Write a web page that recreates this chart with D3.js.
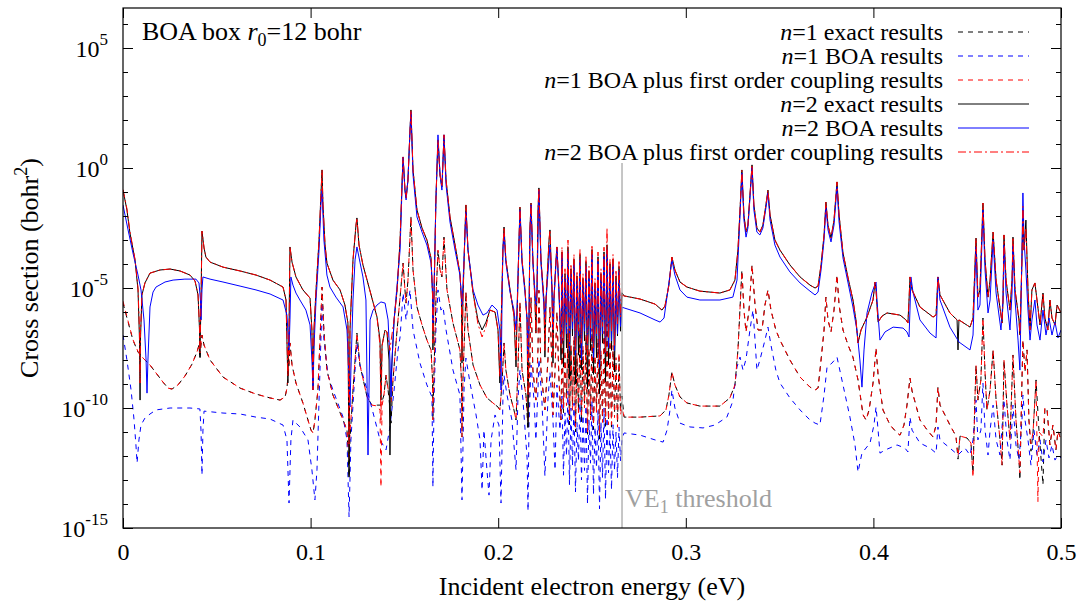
<!DOCTYPE html>
<html>
<head>
<meta charset="utf-8">
<script src="https://cdn.jsdelivr.net/npm/d3@7"></script>
<style>
  body { margin: 0; background: #fff; }
  svg { display: block; }
  text { font-family: "Liberation Serif", "Times New Roman", serif; fill: #000; }
</style>
</head>
<body>
<svg id="chart" width="1086" height="604"></svg>
<script>
// ---- axis settings ----
const energyDomain = [0, 0.5];
const logDomain = [-15, 6.667];          // log10 of cross section range
const xTicks = [0, 0.1, 0.2, 0.3, 0.4, 0.5];
const xTickLabels = ["0", "0.1", "0.2", "0.3", "0.4", "0.5"];
const yTickExps = [-15, -10, -5, 0, 5];
const yMinorExps = d3.range(-15, 7);
const thresholdEnergy = 0.266;

// ---- series: [energy (eV), log10 cross section (bohr^2)] ----
const n1Exact = [
[0,-5.63],[.0027,-6.42],[.0053,-7.17],[.0080,-7.67],[.0107,-7.92],[.0144,-8.21],[.0176,-8.54],[.0213,-8.92],[.0240,-9.17],[.0261,-9.21],[.0293,-9.04],[.0330,-8.67],[.0368,-8.17],[.0394,-7.67],[.0405,-7.38],[.0410,-7.96],[.0416,-7.38],[.0421,-6.96],[.0432,-7.38],[.0464,-8.0],[.0533,-8.71],[.0624,-9.17],[.0709,-9.42],[.0784,-9.58],[.0837,-9.67],[.0864,-9.54],[.0874,-9.17],[.0885,-8.21],[.0890,-7.29],[.0901,-8.21],[.0922,-8.96],[.0959,-9.79],[.0986,-10.5],[.1002,-10.92],[.1013,-11.04],[.1023,-10.5],[.1039,-9.25],[.1050,-7.17],[.1061,-4.96],[.1071,-6.79],[.1087,-8.42],[.1119,-9.46],[.1173,-10.5],[.1194,-10.92],[.1205,-12.88],[.1210,-11.33],[.1226,-9.25],[.1247,-6.88],[.1263,-8.21],[.1301,-9.54],[.1327,-9.88],[.1359,-9.88],[.1375,-9.88],[.1391,-9.46],[.1402,-8.63],[.1413,-9.25],[.1423,-10.0],[.1429,-10.63],[.1439,-8.83],[.1461,-6.75],[.1477,-5.38],[.1493,-3.96],[.1503,-5.08],[.1509,-5.63],[.1519,-4.67],[.1535,-2.04],[.1546,-4.25],[.1567,-5.79],[.1594,-6.54],[.1620,-7.17],[.1642,-7.58],[.1650,-8.83],[.1652,-10.5],[.1658,-8.42],[.1668,-5.5],[.1679,-3.42],[.1690,-4.25],[.1700,-4.54],[.1711,-2.88],[.1727,-5.08],[.1759,-6.46],[.1796,-7.58],[.1804,-8.83],[.1807,-11.21],[.1812,-8.83],[.1823,-6.33],[.1828,-5.17],[.1839,-6.75],[.1866,-8.21],[.1903,-9.04],[.1940,-9.58],[.1972,-9.79],[.1999,-9.96],[.2009,-10.08],[.2020,-9.0],[.2031,-7.29],[.2041,-8.42],[.2063,-9.46],[.2084,-10.08],[.2095,-10.5],[.2105,-8.42],[.2116,-5.6],[.2127,-8.42],[.2148,-9.46],[.2159,-10.92],[.2169,-8.0],[.2175,-5.4],[.2185,-8.42],[.2201,-9.67],[.2212,-7.58],[.2217,-5.1],[.2228,-8.42],[.2249,-10.08],[.2265,-8.0],[.2276,-5.8],[.2287,-8.42],[.2292,-10.29],[.2303,-8.42],[.2313,-6.0],[.2324,-8.83],[.2335,-10.5],
[.2340,-7.0],[.2348,-10.2],[.2356,-7.8],[.2364,-9.6],[.2372,-6.9],[.2380,-10.7],[.2388,-7.5],[.2396,-9.9],[.2404,-7.2],[.2412,-11.0],[.2420,-7.9],[.2428,-10.1],[.2436,-6.8],[.2444,-10.6],[.2452,-7.6],[.2460,-9.8],[.2468,-7.1],[.2476,-11.2],[.2484,-7.7],[.2492,-10.3],[.2500,-6.9],[.2508,-10.9],[.2516,-8.0],[.2524,-10.0],[.2532,-7.3],[.2540,-11.3],[.2548,-7.8],[.2556,-10.4],[.2564,-7.0],[.2572,-10.8],[.2580,-6.7],[.2588,-10.5],[.2596,-7.4],[.2604,-10.9],[.2612,-7.6],[.2620,-10.2],[.2628,-8.1],[.2636,-10.6],[.2644,-7.9],[.2652,-10.1],[.2660,-9.5],
[.2671,-10.38],[.2756,-10.38],[.2863,-10.33],[.2894,-10.08],[.2910,-9.46],[.2926,-8.5],[.2942,-9.04],[.2969,-9.54],[.3006,-9.79],[.3075,-9.92],[.3182,-9.92],[.3235,-9.58],[.3262,-9.04],[.3278,-7.58],[.3299,-4.25],[.3310,-5.92],[.3321,-6.83],[.3337,-5.92],[.3353,-4.04],[.3369,-5.71],[.3385,-6.75],[.3406,-6.75],[.3422,-5.71],[.3438,-5.08],[.3454,-5.92],[.3480,-6.75],[.3502,-7.17],[.3555,-8.0],[.3609,-8.71],[.3662,-9.13],[.3689,-9.25],[.3705,-9.17],[.3721,-8.0],[.3737,-6.75],[.3747,-5.38],[.3758,-6.33],[.3774,-6.83],[.3790,-5.92],[.3806,-4.46],[.3817,-5.71],[.3838,-6.75],[.3865,-7.38],[.3891,-7.88],[.3918,-8.83],[.3945,-10.29],[.3961,-10.5],[.3977,-10.08],[.3998,-8.96],[.4014,-7.5],[.4025,-8.63],[.4051,-10.08],[.4089,-10.71],[.4126,-11.04],[.4142,-11.13],[.4163,-10.71],[.4179,-9.88],[.4195,-8.75],[.4206,-9.29],[.4248,-10.5],[.4291,-10.96],[.4318,-11.21],[.4334,-10.71],[.4344,-9.13],[.4355,-9.88],[.4408,-10.71],[.4440,-11.17],[.4451,-12.13],[.4462,-11.17],[.4499,-11.25],[.4520,-11.46],[.4531,-12.71],[.4541,-9.67],[.4547,-8.21],[.4557,-9.67],[.4573,-8.83],[.4584,-6.25],[.4595,-8.5],[.4605,-10.08],[.4622,-9.25],[.4638,-7.58],[.4654,-9.67],[.4675,-11.33],[.4686,-12.38],[.4696,-8.0],[.4712,-9.88],[.4728,-11.33],[.4744,-7.79],[.4760,-10.5],[.4776,-12.17],[.4781,-13.0],[.4792,-8.83],[.4797,-7.17],[.4808,-8.5],[.4819,-7.58],[.4829,-10.5],[.4840,-11.8],[.4851,-11.0],[.4867,-8.83],[.4883,-11.0],[.4904,-13.2],[.4914,-10.0],[.4925,-10.0],[.4941,-11.54],[.4957,-10.71],[.4973,-11.75],[.4984,-10.96],[.5,-11.33]
];

const n1Boa = [
[0,-6.96],[.0021,-8.0],[.0043,-9.25],[.0059,-10.5],[.0069,-11.54],[.0075,-12.29],[.0085,-11.33],[.0096,-10.71],[.0117,-10.42],[.0144,-10.25],[.0176,-10.08],[.0251,-10.0],[.0357,-10.0],[.0410,-10.04],[.0416,-10.96],[.0421,-12.79],[.0426,-10.96],[.0432,-10.13],[.0533,-10.21],[.0624,-10.25],[.0709,-10.38],[.0784,-10.46],[.0853,-10.71],[.0874,-11.33],[.0885,-13.96],[.0895,-11.33],[.0906,-10.5],[.0943,-10.79],[.0986,-11.33],[.1007,-12.58],[.1023,-13.83],[.1034,-12.58],[.1045,-9.67],[.1061,-5.63],[.1071,-7.17],[.1093,-8.63],[.1119,-9.25],[.1173,-10.38],[.1194,-11.33],[.1205,-14.54],[.1215,-11.33],[.1237,-8.42],[.1247,-7.29],[.1263,-8.21],[.1301,-9.25],[.1343,-10.5],[.1370,-11.33],[.1402,-11.75],[.1423,-10.79],[.1445,-9.25],[.1466,-7.58],[.1477,-7.04],[.1493,-5.21],[.1509,-6.33],[.1530,-5.08],[.1546,-6.75],[.1583,-8.13],[.1620,-9.04],[.1647,-9.54],[.1652,-13.29],[.1658,-9.71],[.1668,-6.75],[.1679,-5.08],[.1695,-5.92],[.1706,-5.79],[.1722,-6.75],[.1759,-8.42],[.1796,-9.46],[.1807,-13.83],[.1818,-9.21],[.1828,-7.92],[.1850,-8.96],[.1882,-10.29],[.1903,-11.33],[.1914,-13.42],[.1924,-10.92],[.1940,-12.58],[.1951,-13.63],[.1962,-11.33],[.1983,-10.29],[.2004,-10.71],[.2015,-13.96],[.2025,-9.67],[.2031,-8.63],[.2047,-9.46],[.2073,-10.5],[.2095,-12.58],[.2105,-9.67],[.2116,-8.42],[.2132,-9.67],[.2154,-12.08],[.2159,-14.29],[.2164,-10.75],[.2175,-8.21],[.2191,-9.67],[.2201,-11.33],[.2212,-9.25],[.2217,-7.96],[.2233,-9.67],[.2249,-12.83],[.2265,-9.67],[.2276,-8.5],[.2292,-10.5],[.2303,-12.58],[.2313,-9.04],[.2329,-10.92],
[.2340,-9.5],[.2348,-12.8],[.2356,-10.2],[.2364,-12.0],[.2372,-9.3],[.2380,-13.2],[.2388,-10.0],[.2396,-12.4],[.2404,-9.8],[.2412,-13.5],[.2420,-10.6],[.2428,-12.2],[.2436,-9.6],[.2444,-13.0],[.2452,-10.3],[.2460,-12.6],[.2468,-9.9],[.2476,-14.0],[.2484,-10.5],[.2492,-12.3],[.2500,-9.7],[.2508,-13.6],[.2516,-10.8],[.2524,-12.5],[.2532,-10.1],[.2540,-14.2],[.2548,-10.6],[.2556,-12.9],[.2564,-10.0],[.2572,-13.8],[.2580,-10.4],[.2588,-12.7],[.2596,-10.9],[.2604,-13.4],[.2612,-10.7],[.2620,-12.6],[.2628,-11.0],[.2636,-12.9],[.2644,-10.8],[.2652,-12.2],[.2660,-11.3],
[.2671,-11.04],[.2756,-11.13],[.2836,-11.33],[.2879,-11.42],[.2900,-10.92],[.2916,-10.08],[.2926,-9.25],[.2942,-10.0],[.2969,-10.63],[.3022,-10.79],[.3092,-10.83],[.3155,-10.71],[.3219,-10.38],[.3251,-9.71],[.3273,-8.29],[.3289,-7.88],[.3305,-8.42],[.3321,-7.96],[.3342,-6.75],[.3358,-5.92],[.3369,-7.17],[.3379,-8.42],[.3395,-8.0],[.3422,-7.17],[.3438,-6.63],[.3454,-7.38],[.3480,-8.42],[.3502,-8.96],[.3555,-9.58],[.3609,-10.08],[.3662,-10.5],[.3689,-10.63],[.3715,-10.71],[.3737,-9.46],[.3753,-8.29],[.3779,-8.13],[.3806,-7.88],[.3838,-9.04],[.3875,-10.38],[.3902,-11.54],[.3918,-12.67],[.3939,-11.88],[.3982,-11.46],[.4003,-10.71],[.4014,-9.96],[.4025,-10.92],[.4035,-11.88],[.4062,-11.75],[.4126,-11.54],[.4168,-11.67],[.4184,-11.83],[.4195,-10.38],[.4206,-10.92],[.4248,-11.46],[.4302,-11.67],[.4334,-11.88],[.4344,-10.79],[.4355,-11.33],[.4408,-11.67],[.4451,-11.96],[.4488,-11.67],[.4515,-11.96],[.4531,-11.33],[.4547,-9.67],[.4557,-11.33],[.4573,-10.92],[.4584,-8.96],[.4595,-10.92],[.4611,-11.96],[.4622,-10.92],[.4638,-9.88],[.4654,-11.33],[.4675,-11.96],[.4696,-9.67],[.4712,-11.33],[.4728,-12.17],[.4744,-9.88],[.4760,-11.54],[.4776,-12.17],[.4792,-10.5],[.4797,-9.46],[.4808,-10.5],[.4824,-11.33],[.4840,-12.38],[.4856,-10.92],[.4872,-11.96],[.4888,-11.33],[.4904,-12.25],[.4920,-11.33],[.4936,-12.08],[.4952,-11.54],[.4968,-12.17],[.4984,-11.96],[.5,-12.08]
];

const n1Coupled = [
[0,-5.55],[.0027,-6.38],[.0053,-7.15],[.0080,-7.65],[.0107,-7.92],[.0144,-8.21],[.0176,-8.54],[.0213,-8.92],[.0240,-9.17],[.0261,-9.21],[.0293,-9.04],[.0330,-8.67],[.0368,-8.17],[.0394,-7.67],[.0405,-7.4],[.0410,-7.7],[.0416,-7.3],[.0421,-6.96],[.0432,-7.38],[.0464,-8.0],[.0533,-8.71],[.0624,-9.17],[.0709,-9.42],[.0784,-9.58],[.0837,-9.67],[.0864,-9.54],[.0874,-9.17],[.0885,-8.21],[.0890,-7.29],[.0901,-8.21],[.0922,-8.96],[.0959,-9.79],[.0986,-10.5],[.1002,-10.92],[.1013,-11.04],[.1023,-10.5],[.1039,-9.25],[.1050,-7.17],[.1061,-4.96],[.1071,-6.79],[.1087,-8.42],[.1119,-9.46],[.1173,-10.5],[.1194,-10.92],[.1205,-12.2],[.1210,-11.0],[.1226,-9.25],[.1247,-6.88],[.1263,-8.21],[.1301,-9.54],[.1327,-9.88],[.1359,-9.92],[.1370,-10.1],[.1375,-13.29],[.1381,-9.9],[.1391,-9.46],[.1402,-8.63],[.1413,-9.2],[.1423,-9.6],[.1429,-9.8],[.1439,-8.83],[.1461,-6.75],[.1477,-5.38],[.1493,-3.96],[.1503,-5.08],[.1509,-5.63],[.1519,-4.67],[.1535,-2.04],[.1546,-4.25],[.1567,-5.79],[.1594,-6.54],[.1620,-7.17],[.1642,-7.58],[.1650,-8.83],[.1652,-10.5],[.1658,-8.42],[.1668,-5.5],[.1679,-3.42],[.1690,-4.25],[.1700,-4.54],[.1711,-2.88],[.1727,-5.08],[.1759,-6.46],[.1796,-7.58],[.1804,-8.83],[.1807,-11.21],[.1812,-8.83],[.1823,-6.33],[.1828,-5.17],[.1839,-6.75],[.1866,-8.21],[.1903,-9.04],[.1940,-9.58],[.1972,-9.79],[.1999,-9.96],[.2009,-10.08],[.2020,-9.0],[.2031,-7.29],[.2041,-8.42],[.2063,-9.46],[.2084,-10.08],[.2095,-10.5],[.2105,-8.42],[.2116,-5.6],[.2127,-8.42],[.2148,-9.46],[.2159,-10.6],[.2169,-8.0],[.2175,-5.4],[.2185,-8.42],[.2201,-9.67],[.2212,-7.58],[.2217,-5.1],[.2228,-8.42],[.2249,-10.08],[.2265,-8.0],[.2276,-5.8],[.2287,-8.42],[.2292,-10.29],[.2303,-8.42],[.2313,-6.0],[.2324,-8.83],[.2335,-10.5],
[.2340,-6.8],[.2348,-10.0],[.2356,-7.6],[.2364,-9.9],[.2372,-6.7],[.2380,-10.5],[.2388,-7.3],[.2396,-10.1],[.2404,-7.0],[.2412,-10.8],[.2420,-7.7],[.2428,-10.3],[.2436,-6.6],[.2444,-10.4],[.2452,-7.4],[.2460,-10.0],[.2468,-6.9],[.2476,-11.0],[.2484,-7.5],[.2492,-10.5],[.2500,-6.7],[.2508,-10.7],[.2516,-7.8],[.2524,-10.2],[.2532,-7.1],[.2540,-11.1],[.2548,-7.6],[.2556,-10.6],[.2564,-6.8],[.2572,-10.6],[.2580,-6.5],[.2588,-10.7],[.2596,-7.2],[.2604,-10.7],[.2612,-7.4],[.2620,-10.4],[.2628,-7.9],[.2636,-10.8],[.2644,-7.7],[.2652,-10.3],[.2660,-10.0],
[.2671,-10.38],[.2756,-10.38],[.2863,-10.33],[.2894,-10.08],[.2910,-9.46],[.2926,-8.5],[.2942,-9.04],[.2969,-9.54],[.3006,-9.79],[.3075,-9.92],[.3182,-9.92],[.3235,-9.58],[.3262,-9.04],[.3278,-7.58],[.3299,-4.3],[.3310,-5.92],[.3321,-6.83],[.3337,-5.92],[.3353,-4.04],[.3369,-5.71],[.3385,-6.75],[.3406,-6.75],[.3422,-5.71],[.3438,-5.08],[.3454,-5.92],[.3480,-6.75],[.3502,-7.17],[.3555,-8.0],[.3609,-8.71],[.3662,-9.13],[.3689,-9.25],[.3705,-9.17],[.3721,-8.0],[.3737,-6.75],[.3747,-5.38],[.3758,-6.33],[.3774,-6.83],[.3790,-5.92],[.3806,-4.46],[.3817,-5.71],[.3838,-6.75],[.3865,-7.38],[.3891,-7.88],[.3918,-8.83],[.3945,-10.29],[.3961,-10.5],[.3977,-10.08],[.3998,-8.96],[.4014,-7.5],[.4025,-8.63],[.4051,-10.08],[.4089,-10.71],[.4126,-11.04],[.4142,-11.13],[.4163,-10.71],[.4179,-9.88],[.4195,-8.75],[.4206,-9.29],[.4248,-10.5],[.4291,-10.96],[.4318,-11.21],[.4334,-10.71],[.4344,-9.13],[.4355,-9.88],[.4408,-10.71],[.4440,-11.17],[.4451,-12.0],[.4462,-11.17],[.4499,-11.25],[.4520,-11.46],[.4531,-12.9],[.4541,-9.67],[.4547,-8.21],[.4557,-9.67],[.4573,-8.83],[.4584,-6.25],[.4595,-8.5],[.4605,-10.08],[.4622,-9.25],[.4638,-7.58],[.4654,-9.67],[.4675,-11.33],[.4686,-12.38],[.4696,-8.0],[.4712,-9.88],[.4728,-11.33],[.4744,-7.79],[.4760,-10.5],[.4776,-12.17],[.4781,-12.7],[.4792,-8.83],[.4797,-7.17],[.4808,-8.5],[.4819,-7.58],[.4829,-10.5],[.4840,-11.5],[.4851,-11.0],[.4867,-8.83],[.4877,-13.9],[.4883,-11.0],[.4904,-11.2],[.4914,-10.0],[.4925,-10.0],[.4941,-11.54],[.4957,-10.71],[.4973,-11.75],[.4984,-10.96],[.5,-11.33]
];

const n2Exact = [
[0,-0.92],[.0021,-1.75],[.0037,-2.71],[.0064,-3.83],[.0080,-5.08],[.0088,-7.17],[.0091,-9.67],[.0093,-7.17],[.0101,-5.29],[.0117,-4.79],[.0144,-4.38],[.0197,-4.25],[.0251,-4.21],[.0304,-4.29],[.0357,-4.46],[.0384,-4.71],[.0400,-5.29],[.0408,-6.75],[.0410,-7.88],[.0416,-5.5],[.0421,-2.63],[.0432,-3.33],[.0442,-3.71],[.0464,-3.92],[.0533,-4.13],[.0624,-4.29],[.0709,-4.46],[.0784,-4.67],[.0853,-4.96],[.0869,-5.5],[.0879,-8.96],[.0885,-6.75],[.0890,-3.29],[.0901,-3.92],[.0922,-4.54],[.0959,-5.08],[.0997,-5.42],[.1007,-6.75],[.1013,-9.25],[.1018,-6.75],[.1029,-5.08],[.1045,-3.0],[.1055,-1.13],[.1061,-0.08],[.1066,-1.54],[.1077,-3.21],[.1087,-3.96],[.1119,-4.67],[.1157,-5.08],[.1183,-5.71],[.1199,-6.46],[.1205,-12.88],[.1210,-6.75],[.1226,-3.83],[.1242,-2.38],[.1247,-2.08],[.1258,-3.21],[.1279,-4.04],[.1301,-4.67],[.1327,-5.42],[.1354,-6.21],[.1370,-7.17],[.1375,-9.67],[.1381,-7.38],[.1397,-6.75],[.1407,-6.83],[.1418,-8.0],[.1423,-11.96],[.1429,-8.83],[.1445,-6.33],[.1461,-5.08],[.1477,-3.0],[.1487,-0.71],[.1493,0.46],[.1503,-0.92],[.1509,-1.25],[.1519,-0.5],[.1530,1.58],[.1535,2.42],[.1546,-0.08],[.1567,-1.75],[.1594,-2.5],[.1620,-3.0],[.1642,-3.75],[.1650,-5.29],[.1652,-7.58],[.1658,-5.29],[.1668,-1.33],[.1679,1.17],[.1690,-0.29],[.1700,-0.79],[.1706,0.33],[.1711,1.38],[.1722,-0.5],[.1743,-2.04],[.1770,-3.21],[.1796,-4.38],[.1804,-5.5],[.1807,-8.13],[.1812,-5.5],[.1823,-2.58],[.1828,-1.54],[.1839,-3.42],[.1866,-5.21],[.1892,-6.33],[.1914,-6.75],[.1935,-6.42],[.1956,-5.92],[.1983,-6.0],[.1999,-6.75],[.2009,-8.96],[.2015,-6.75],[.2025,-3.42],[.2031,-2.46],[.2041,-3.83],[.2063,-5.08],[.2084,-6.13],[.2095,-8.29],[.2100,-6.33],[.2111,-3.0],[.2116,-1.63],[.2127,-3.83],[.2143,-5.08],[.2154,-6.33],[.2159,-10.79],[.2164,-6.75],[.2169,-2.58],[.2175,-1.46],[.2185,-3.83],[.2196,-5.5],[.2201,-6.88],[.2207,-5.08],[.2212,-1.75],[.2217,-0.83],[.2228,-3.83],[.2244,-5.5],[.2249,-7.88],[.2255,-5.5],[.2271,-3.0],[.2276,-2.58],[.2287,-5.08],[.2292,-8.13],[.2297,-5.5],[.2308,-3.83],[.2313,-3.29],[.2324,-5.08],[.2335,-8.0],
[.2340,-3.5],[.2348,-8.3],[.2356,-4.4],[.2364,-7.5],[.2372,-3.3],[.2380,-8.8],[.2388,-4.2],[.2396,-7.0],[.2404,-3.8],[.2412,-9.0],[.2420,-4.5],[.2428,-7.8],[.2436,-3.6],[.2444,-8.4],[.2452,-4.6],[.2460,-7.2],[.2468,-3.9],[.2476,-9.2],[.2484,-4.3],[.2492,-7.6],[.2500,-3.4],[.2508,-8.6],[.2516,-4.8],[.2524,-7.9],[.2532,-3.7],[.2540,-9.4],[.2548,-4.4],[.2556,-7.3],[.2564,-3.5],[.2572,-8.9],[.2580,-3.2],[.2588,-8.2],[.2596,-4.0],[.2604,-7.6],[.2612,-3.8],[.2620,-8.5],[.2628,-4.5],[.2636,-7.0],[.2644,-4.1],[.2652,-6.8],[.2660,-5.2],
[.2671,-5.33],[.2756,-5.46],[.2836,-5.67],[.2873,-5.92],[.2889,-5.75],[.2910,-4.88],[.2926,-3.71],[.2942,-4.25],[.2969,-4.75],[.3006,-4.96],[.3075,-5.13],[.3182,-5.21],[.3235,-5.08],[.3262,-4.67],[.3278,-3.42],[.3289,-1.75],[.3299,-0.08],[.3310,-1.96],[.3321,-2.67],[.3331,-2.38],[.3342,-1.13],[.3353,0.13],[.3363,-1.54],[.3379,-2.5],[.3395,-2.67],[.3411,-2.38],[.3427,-1.54],[.3438,-0.92],[.3449,-1.96],[.3475,-3.0],[.3502,-3.42],[.3555,-4.04],[.3609,-4.54],[.3662,-4.88],[.3689,-5.0],[.3705,-4.92],[.3721,-4.04],[.3737,-2.79],[.3747,-1.42],[.3758,-2.38],[.3774,-2.92],[.3790,-2.17],[.3806,-0.58],[.3817,-1.96],[.3838,-3.54],[.3865,-4.58],[.3891,-5.5],[.3907,-6.33],[.3918,-7.29],[.3934,-6.75],[.3966,-6.21],[.3998,-5.5],[.4009,-4.75],[.4014,-5.08],[.4025,-6.42],[.4046,-6.17],[.4073,-6.04],[.4142,-6.13],[.4174,-6.33],[.4184,-6.46],[.4190,-5.5],[.4195,-4.54],[.4206,-5.08],[.4248,-5.79],[.4318,-6.21],[.4334,-6.13],[.4344,-4.54],[.4355,-5.29],[.4408,-6.04],[.4446,-6.33],[.4451,-7.58],[.4456,-6.33],[.4515,-6.63],[.4531,-6.25],[.4547,-2.92],[.4557,-5.38],[.4568,-5.08],[.4584,-1.46],[.4595,-3.83],[.4611,-5.38],[.4622,-4.67],[.4638,-2.67],[.4654,-4.67],[.4686,-6.46],[.4691,-5.5],[.4696,-2.79],[.4707,-4.67],[.4728,-5.92],[.4739,-4.67],[.4744,-2.88],[.4755,-5.08],[.4776,-6.33],[.4781,-6.96],[.4792,-3.83],[.4797,-1.75],[.4803,-3.42],[.4813,-2.17],[.4824,-5.08],[.4835,-6.75],[.4845,-5.08],[.4861,-4.79],[.4872,-5.5],[.4888,-6.54],[.4904,-5.21],[.4914,-6.25],[.4930,-6.75],[.4941,-5.5],[.4952,-6.25],[.4968,-6.54],[.4979,-5.71],[.5,-6.04]
];

const n2Boa = [
[0,-1.54],[.0027,-2.58],[.0053,-3.54],[.0080,-4.46],[.0096,-5.08],[.0112,-6.33],[.0123,-8.0],[.0128,-9.38],[.0133,-8.0],[.0144,-5.79],[.0160,-5.17],[.0176,-4.96],[.0224,-4.75],[.0267,-4.67],[.0330,-4.63],[.0389,-4.63],[.0405,-4.79],[.0413,-5.5],[.0416,-6.33],[.0421,-5.08],[.0426,-4.54],[.0464,-4.63],[.0533,-4.75],[.0624,-4.92],[.0709,-5.08],[.0784,-5.25],[.0853,-5.5],[.0874,-6.13],[.0885,-7.58],[.0890,-6.33],[.0895,-4.54],[.0906,-4.88],[.0922,-5.21],[.0943,-5.5],[.0975,-5.92],[.0997,-6.54],[.1007,-8.0],[.1013,-9.25],[.1018,-7.5],[.1029,-5.5],[.1045,-3.42],[.1055,-1.54],[.1061,-0.92],[.1071,-3.0],[.1087,-4.46],[.1103,-4.96],[.1135,-5.38],[.1173,-5.79],[.1194,-6.75],[.1205,-8.83],[.1210,-9.96],[.1215,-8.42],[.1226,-5.5],[.1237,-3.83],[.1247,-3.29],[.1263,-3.92],[.1279,-4.54],[.1295,-5.5],[.1306,-11.96],[.1317,-6.33],[.1333,-5.92],[.1354,-5.71],[.1375,-5.58],[.1397,-5.63],[.1413,-6.33],[.1423,-8.0],[.1429,-9.54],[.1434,-8.0],[.1445,-6.33],[.1461,-4.88],[.1477,-3.42],[.1487,-0.92],[.1493,0.46],[.1503,-0.92],[.1509,-1.33],[.1519,-0.5],[.1530,1.58],[.1535,2.33],[.1546,-0.29],[.1567,-2.04],[.1594,-2.67],[.1620,-3.21],[.1642,-3.96],[.1650,-5.08],[.1652,-6.46],[.1658,-5.08],[.1668,-1.33],[.1679,1.38],[.1690,-0.29],[.1700,-0.92],[.1706,0.33],[.1711,1.38],[.1722,-0.71],[.1743,-2.25],[.1770,-3.42],[.1796,-4.46],[.1807,-5.71],[.1812,-4.88],[.1823,-2.79],[.1828,-1.83],[.1839,-3.42],[.1866,-5.08],[.1892,-5.71],[.1919,-6.13],[.1940,-6.04],[.1967,-5.71],[.1994,-5.92],[.2009,-6.75],[.2015,-9.25],[.2020,-5.92],[.2025,-3.42],[.2031,-2.71],[.2041,-3.96],[.2063,-5.17],[.2084,-5.92],[.2095,-6.75],[.2100,-5.92],[.2111,-3.13],[.2116,-1.75],[.2127,-3.96],[.2143,-5.21],[.2154,-6.33],[.2159,-8.0],[.2164,-6.33],[.2169,-2.79],[.2175,-1.54],[.2185,-3.96],[.2201,-5.71],[.2207,-5.08],[.2217,-0.92],[.2228,-3.96],[.2249,-6.33],[.2255,-5.5],[.2276,-3.21],[.2287,-5.21],[.2292,-6.75],[.2297,-5.5],[.2313,-3.33],[.2324,-5.21],[.2335,-7.33],
[.2340,-3.6],[.2348,-7.2],[.2356,-4.6],[.2364,-6.9],[.2372,-3.5],[.2380,-7.6],[.2388,-4.4],[.2396,-6.7],[.2404,-4.0],[.2412,-7.8],[.2420,-4.7],[.2428,-7.0],[.2436,-3.8],[.2444,-8.0],[.2452,-4.8],[.2460,-6.8],[.2468,-4.1],[.2476,-7.4],[.2484,-4.5],[.2492,-7.1],[.2500,-3.6],[.2508,-7.9],[.2516,-5.0],[.2524,-7.0],[.2532,-3.9],[.2540,-8.3],[.2548,-4.6],[.2556,-6.9],[.2564,-3.7],[.2572,-7.7],[.2580,-3.4],[.2588,-7.5],[.2596,-4.2],[.2604,-7.2],[.2612,-4.0],[.2620,-7.6],[.2628,-4.7],[.2636,-6.9],[.2644,-4.3],[.2652,-6.6],[.2660,-5.8],
[.2671,-5.83],[.2756,-6.04],[.2836,-6.33],[.2863,-6.42],[.2884,-6.25],[.2905,-5.08],[.2926,-3.83],[.2942,-4.46],[.2969,-5.08],[.3006,-5.38],[.3075,-5.5],[.3182,-5.5],[.3251,-5.38],[.3273,-4.67],[.3283,-3.0],[.3299,-0.21],[.3310,-2.17],[.3321,-2.88],[.3331,-2.5],[.3342,-1.25],[.3353,0.04],[.3363,-1.75],[.3379,-2.67],[.3395,-2.79],[.3411,-2.5],[.3427,-1.67],[.3438,-1.04],[.3449,-2.17],[.3475,-3.21],[.3502,-3.71],[.3555,-4.33],[.3609,-4.79],[.3662,-5.13],[.3689,-5.29],[.3705,-5.17],[.3721,-4.25],[.3737,-3.0],[.3747,-1.63],[.3758,-2.58],[.3774,-3.08],[.3790,-2.38],[.3806,-0.79],[.3817,-2.25],[.3838,-3.75],[.3865,-4.79],[.3891,-5.79],[.3912,-6.75],[.3928,-8.0],[.3939,-9.13],[.3950,-7.58],[.3966,-6.04],[.3992,-5.21],[.4009,-4.83],[.4014,-4.75],[.4019,-5.5],[.4035,-7.17],[.4062,-6.83],[.4105,-6.63],[.4158,-6.67],[.4179,-6.83],[.4190,-7.04],[.4195,-5.92],[.4200,-4.54],[.4211,-5.17],[.4248,-6.33],[.4302,-6.88],[.4334,-7.08],[.4339,-5.92],[.4344,-4.54],[.4355,-5.5],[.4408,-6.63],[.4456,-7.25],[.4515,-7.58],[.4531,-6.96],[.4547,-3.29],[.4557,-5.92],[.4568,-5.71],[.4584,-1.75],[.4595,-4.25],[.4611,-6.04],[.4622,-5.5],[.4638,-3.0],[.4654,-5.21],[.4680,-6.75],[.4691,-5.5],[.4696,-3.21],[.4707,-5.21],[.4728,-6.75],[.4739,-5.21],[.4744,-3.21],[.4755,-5.5],[.4771,-7.17],[.4781,-8.42],[.4792,-3.42],[.4797,-1.04],[.4803,-3.0],[.4813,-4.25],[.4824,-5.92],[.4835,-7.17],[.4845,-6.33],[.4861,-5.5],[.4872,-6.54],[.4888,-7.17],[.4904,-5.92],[.4920,-6.96],[.4936,-6.25],[.4952,-6.96],[.4968,-6.42],[.4984,-7.08],[.5,-6.75]
];

const n2Coupled = [
[0,-0.9],[.0021,-1.7],[.0037,-2.65],[.0064,-3.8],[.0080,-5.0],[.0088,-6.8],[.0091,-8.96],[.0093,-6.9],[.0101,-5.29],[.0117,-4.79],[.0144,-4.38],[.0197,-4.25],[.0251,-4.21],[.0304,-4.29],[.0357,-4.46],[.0384,-4.71],[.0400,-5.29],[.0408,-6.6],[.0410,-7.7],[.0416,-5.5],[.0421,-2.63],[.0432,-3.33],[.0442,-3.71],[.0464,-3.92],[.0533,-4.13],[.0624,-4.29],[.0709,-4.46],[.0784,-4.67],[.0853,-4.96],[.0869,-5.5],[.0879,-8.7],[.0885,-6.75],[.0890,-3.29],[.0901,-3.92],[.0922,-4.54],[.0959,-5.08],[.0997,-5.42],[.1007,-6.75],[.1013,-9.25],[.1018,-6.75],[.1029,-5.08],[.1045,-3.0],[.1055,-1.13],[.1061,-0.08],[.1066,-1.54],[.1077,-3.21],[.1087,-3.96],[.1119,-4.67],[.1157,-5.08],[.1183,-5.71],[.1199,-6.46],[.1205,-11.5],[.1210,-6.75],[.1226,-3.83],[.1242,-2.38],[.1247,-2.08],[.1258,-3.21],[.1279,-4.04],[.1301,-4.67],[.1327,-5.42],[.1354,-6.21],[.1370,-7.4],[.1375,-10.5],[.1381,-7.4],[.1397,-6.75],[.1407,-6.83],[.1418,-7.3],[.1423,-7.6],[.1429,-7.2],[.1445,-6.33],[.1461,-5.08],[.1477,-3.0],[.1487,-0.71],[.1493,0.46],[.1503,-0.92],[.1509,-1.25],[.1519,-0.5],[.1530,1.58],[.1535,2.42],[.1546,-0.08],[.1567,-1.75],[.1594,-2.5],[.1620,-3.0],[.1642,-3.75],[.1650,-5.29],[.1652,-7.3],[.1658,-5.29],[.1668,-1.33],[.1679,1.17],[.1690,-0.29],[.1700,-0.79],[.1706,0.33],[.1711,1.38],[.1722,-0.5],[.1743,-2.04],[.1770,-3.21],[.1796,-4.38],[.1804,-5.5],[.1807,-8.0],[.1812,-5.5],[.1823,-2.58],[.1828,-1.54],[.1839,-3.42],[.1866,-5.21],[.1892,-6.5],[.1914,-7.04],[.1935,-6.6],[.1956,-5.92],[.1983,-6.0],[.1999,-6.75],[.2009,-8.7],[.2015,-6.75],[.2025,-3.42],[.2031,-2.46],[.2041,-3.83],[.2063,-5.08],[.2084,-6.13],[.2095,-8.0],[.2100,-6.33],[.2111,-3.0],[.2116,-1.63],[.2127,-3.83],[.2143,-5.08],[.2154,-6.33],[.2159,-9.5],[.2164,-6.75],[.2169,-2.58],[.2175,-1.46],[.2185,-3.83],[.2196,-5.5],[.2201,-6.88],[.2207,-5.08],[.2212,-1.75],[.2217,-0.83],[.2228,-3.83],[.2244,-5.5],[.2249,-7.6],[.2255,-5.5],[.2271,-3.0],[.2276,-2.58],[.2287,-5.08],[.2292,-7.8],[.2297,-5.5],[.2308,-3.83],[.2313,-3.29],[.2324,-5.08],[.2335,-7.5],
[.2340,-3.3],[.2348,-7.2],[.2356,-4.2],[.2364,-6.6],[.2372,-3.0],[.2380,-7.4],[.2388,-4.0],[.2396,-6.4],[.2404,-3.6],[.2412,-7.6],[.2420,-4.3],[.2428,-6.8],[.2436,-3.4],[.2444,-7.3],[.2452,-4.4],[.2460,-6.5],[.2468,-3.7],[.2476,-7.8],[.2484,-4.1],[.2492,-6.7],[.2500,-3.2],[.2508,-7.5],[.2516,-4.6],[.2524,-6.9],[.2532,-3.5],[.2540,-8.0],[.2548,-4.2],[.2556,-6.6],[.2564,-3.3],[.2572,-7.7],[.2580,-2.5],[.2588,-7.1],[.2596,-3.8],[.2604,-6.8],[.2612,-3.6],[.2620,-7.4],[.2628,-4.3],[.2636,-6.5],[.2644,-3.9],[.2652,-6.2],[.2660,-5.3],
[.2671,-5.33],[.2756,-5.46],[.2836,-5.67],[.2873,-5.92],[.2889,-5.75],[.2910,-4.88],[.2926,-3.71],[.2942,-4.25],[.2969,-4.75],[.3006,-4.96],[.3075,-5.13],[.3182,-5.21],[.3235,-5.08],[.3262,-4.67],[.3278,-3.42],[.3289,-1.75],[.3299,-0.1],[.3310,-1.96],[.3321,-2.67],[.3331,-2.38],[.3342,-1.13],[.3353,0.13],[.3363,-1.54],[.3379,-2.5],[.3395,-2.67],[.3411,-2.38],[.3427,-1.54],[.3438,-0.92],[.3449,-1.96],[.3475,-3.0],[.3502,-3.42],[.3555,-4.04],[.3609,-4.54],[.3662,-4.88],[.3689,-5.0],[.3705,-4.92],[.3721,-4.04],[.3737,-2.79],[.3747,-1.42],[.3758,-2.38],[.3774,-2.92],[.3790,-2.17],[.3806,-0.58],[.3817,-1.96],[.3838,-3.54],[.3865,-4.58],[.3891,-5.5],[.3907,-6.33],[.3918,-7.29],[.3934,-6.75],[.3966,-6.21],[.3998,-5.5],[.4009,-4.75],[.4014,-5.08],[.4025,-6.42],[.4046,-6.17],[.4073,-6.04],[.4142,-6.13],[.4174,-6.33],[.4184,-6.46],[.4190,-5.5],[.4195,-4.54],[.4206,-5.08],[.4248,-5.79],[.4318,-6.21],[.4334,-6.13],[.4344,-4.54],[.4355,-5.29],[.4408,-6.04],[.4446,-6.33],[.4451,-6.4],[.4456,-6.33],[.4515,-6.63],[.4531,-6.25],[.4547,-2.92],[.4557,-5.38],[.4568,-5.08],[.4584,-1.46],[.4595,-3.83],[.4611,-5.38],[.4622,-4.67],[.4638,-2.67],[.4654,-4.67],[.4686,-6.46],[.4691,-5.5],[.4696,-2.79],[.4707,-4.67],[.4728,-5.92],[.4739,-4.67],[.4744,-2.88],[.4755,-5.08],[.4776,-6.33],[.4781,-6.96],[.4792,-3.83],[.4797,-1.6],[.4803,-3.42],[.4813,-2.5],[.4824,-5.08],[.4835,-6.75],[.4845,-5.08],[.4861,-4.79],[.4872,-5.5],[.4888,-6.54],[.4904,-5.21],[.4914,-6.25],[.4930,-6.75],[.4941,-5.5],[.4952,-6.25],[.4968,-6.54],[.4979,-5.71],[.5,-6.04]
];

// ---- series styling and legend order (drawn in this order) ----
const seriesList = [
  { label: ["n", "=1 exact results"], data: n1Exact, color: "#000000", dash: "5,5" },
  { label: ["n", "=1 BOA results"], data: n1Boa, color: "#0000ff", dash: "5,5" },
  { label: ["n", "=1 BOA plus first order coupling results"], data: n1Coupled, color: "#ff0000", dash: "5,5" },
  { label: ["n", "=2 exact results"], data: n2Exact, color: "#000000", dash: null },
  { label: ["n", "=2 BOA results"], data: n2Boa, color: "#0000ff", dash: null },
  { label: ["n", "=2 BOA plus first order coupling results"], data: n2Coupled, color: "#ff0000", dash: "8,3,2,3" }
];

// ---- layout ----
const plot = { left: 123, right: 1061, top: 8, bottom: 528 };
const svg = d3.select("#chart");

const x = d3.scaleLinear().domain(energyDomain).range([plot.left, plot.right]);
const y = d3.scaleLog().domain(logDomain.map(e => Math.pow(10, e))).range([plot.bottom, plot.top]);

svg.append("defs").append("clipPath").attr("id", "plotClip")
  .append("rect")
  .attr("x", plot.left).attr("y", plot.top)
  .attr("width", plot.right - plot.left).attr("height", plot.bottom - plot.top);

// ---- curves ----
const line = d3.line()
  .x(d => x(d[0]))
  .y(d => y(Math.pow(10, d[1])));

const curves = svg.append("g").attr("clip-path", "url(#plotClip)");
seriesList.forEach(s => {
  curves.append("path")
    .datum(s.data)
    .attr("d", line)
    .attr("fill", "none")
    .attr("stroke", s.color)
    .attr("stroke-width", 1)
    .attr("stroke-linejoin", "miter")
    .attr("stroke-dasharray", s.dash);
});

// ---- threshold marker ----
svg.append("line")
  .attr("x1", x(thresholdEnergy)).attr("x2", x(thresholdEnergy))
  .attr("y1", 163).attr("y2", plot.bottom)
  .attr("stroke", "#a0a0a0").attr("stroke-width", 1.2);

const thr = svg.append("text")
  .attr("x", x(thresholdEnergy) + 3).attr("y", 507)
  .attr("font-size", 26).style("fill", "#a0a0a0");
thr.append("tspan").text("VE");
thr.append("tspan").attr("font-size", 18).attr("dy", 6).text("1");
thr.append("tspan").attr("dy", -6).text(" threshold");

// ---- axes (ticks pointing inward, mirrored on all sides) ----
const axisStyle = g => {
  g.select(".domain").remove();
  g.selectAll(".tick line").attr("stroke", "#000").attr("stroke-width", 1);
  g.selectAll("text").attr("font-family", "Liberation Serif, serif").attr("font-size", 24).attr("fill", "#000");
};

svg.append("g").attr("transform", `translate(0,${plot.bottom})`)
  .call(d3.axisBottom(x).tickValues(xTicks)
    .tickFormat((d, i) => xTickLabels[i]).tickSizeInner(-10).tickSizeOuter(0).tickPadding(15))
  .call(axisStyle);

svg.append("g").attr("transform", `translate(0,${plot.top})`)
  .call(d3.axisTop(x).tickValues(xTicks).tickFormat("").tickSizeInner(-10).tickSizeOuter(0))
  .call(axisStyle);

const yMajor = yTickExps.map(e => Math.pow(10, e));
const yMinor = yMinorExps.map(e => Math.pow(10, e));

svg.append("g").attr("transform", `translate(${plot.left},0)`)
  .call(d3.axisLeft(y).tickValues(yMinor).tickFormat("").tickSizeInner(-5).tickSizeOuter(0))
  .call(axisStyle);
svg.append("g").attr("transform", `translate(${plot.left},0)`)
  .call(d3.axisLeft(y).tickValues(yMajor).tickFormat("").tickSizeInner(-10).tickSizeOuter(0))
  .call(axisStyle);
svg.append("g").attr("transform", `translate(${plot.right},0)`)
  .call(d3.axisRight(y).tickValues(yMinor).tickFormat("").tickSizeInner(-5).tickSizeOuter(0))
  .call(axisStyle);
svg.append("g").attr("transform", `translate(${plot.right},0)`)
  .call(d3.axisRight(y).tickValues(yMajor).tickFormat("").tickSizeInner(-10).tickSizeOuter(0))
  .call(axisStyle);

// y tick labels as powers of ten
const yLabels = svg.append("g");
yTickExps.forEach(e => {
  const t = yLabels.append("text")
    .attr("x", 108).attr("y", y(Math.pow(10, e)) + 9)
    .attr("text-anchor", "end").attr("font-size", 24);
  t.append("tspan").text("10");
  t.append("tspan").attr("font-size", 17).attr("dy", -12).text(String(e));
});

// frame
svg.append("rect")
  .attr("x", plot.left).attr("y", plot.top)
  .attr("width", plot.right - plot.left).attr("height", plot.bottom - plot.top)
  .attr("fill", "none").attr("stroke", "#000").attr("stroke-width", 1.2);

// ---- axis titles ----
svg.append("text")
  .attr("x", (plot.left + plot.right) / 2).attr("y", 595)
  .attr("text-anchor", "middle").attr("font-size", 26)
  .text("Incident electron energy (eV)");

const yTitle = svg.append("text")
  .attr("transform", "translate(38,268) rotate(-90)")
  .attr("text-anchor", "middle").attr("font-size", 26);
yTitle.append("tspan").text("Cross section (bohr");
yTitle.append("tspan").attr("font-size", 18).attr("dy", -11).text("2");
yTitle.append("tspan").attr("dy", 11).text(")");

// ---- inset label ----
const box = svg.append("text").attr("x", 142).attr("y", 40).attr("font-size", 26);
box.append("tspan").text("BOA box ");
box.append("tspan").attr("font-style", "italic").text("r");
box.append("tspan").attr("font-size", 18).attr("dy", 6).text("0");
box.append("tspan").attr("dy", -6).text("=12 bohr");

// ---- legend ----
const legend = svg.append("g");
seriesList.forEach((s, i) => {
  const rowY = 32 + i * 24;
  const t = legend.append("text")
    .attr("x", 943).attr("y", rowY + 8)
    .attr("text-anchor", "end").attr("font-size", 24);
  t.append("tspan").attr("font-style", "italic").text(s.label[0]);
  t.append("tspan").text(s.label[1]);
  legend.append("line")
    .attr("x1", 958).attr("x2", 1029)
    .attr("y1", rowY).attr("y2", rowY)
    .attr("stroke", s.color).attr("stroke-width", 1)
    .attr("stroke-dasharray", s.dash);
});
</script>
</body>
</html>
